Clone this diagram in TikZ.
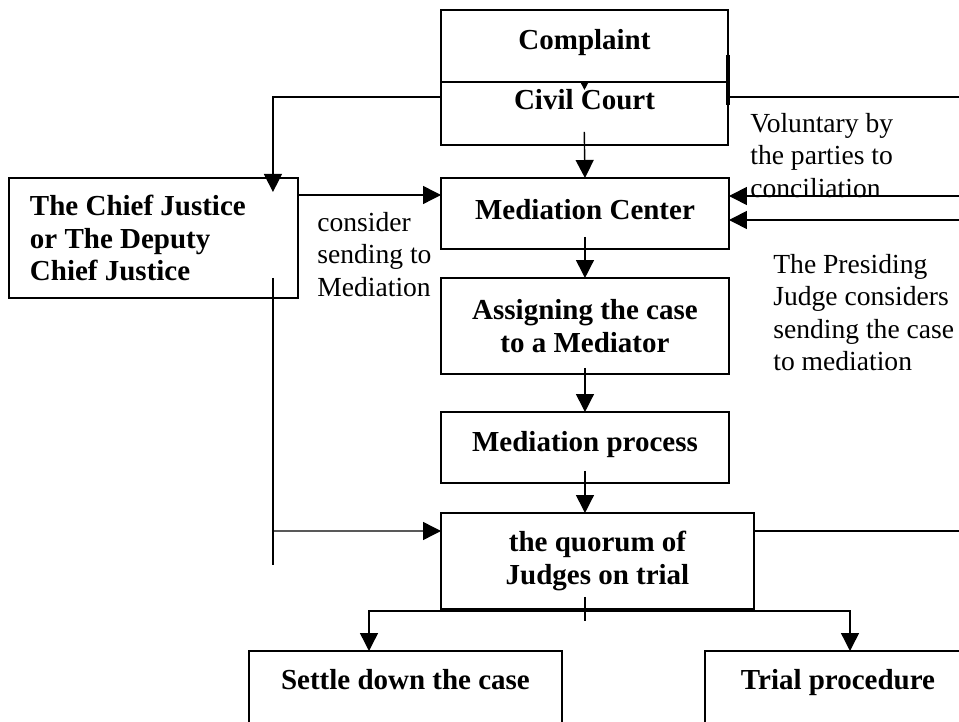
\documentclass[tikz,border=0pt]{standalone}
\usepackage{fontspec}
\setmainfont{Liberation Serif}
\usetikzlibrary{arrows.meta, calc}
\newcommand{\boxfont}{\fontsize{16.5}{18.7}\selectfont\bfseries}
\newcommand{\notefont}{\fontsize{15.7}{18.4}\selectfont}
\tikzset{%
  x=0.02cm, y=-0.02cm, % one unit is one pixel of the page, y runs downwards
  box/.style={draw, line width=0.9pt, inner sep=0pt, outer sep=0pt, align=center,
    anchor=north west, font=\boxfont},
  note/.style={inner sep=0pt, align=flush left, anchor=north west, font=\notefont},
  >={Triangle[length=0.36cm, width=0.36cm]},
  link/.style={->, line width=0.8pt},
  wire/.style={line width=0.8pt}
}

\begin{document}
\begin{tikzpicture}
  \useasboundingbox (0,0) rectangle (959,722);

  \node[box, minimum width=5.74cm, text height=0.8cm, text depth=0.64cm] (complaint) at (441,10) {Complaint};
  \node[box, minimum width=5.74cm, text height=0.56cm, text depth=0.7cm] (civil) at (441,82) {Civil Court};
  \node[box, minimum width=5.76cm, text height=0.84cm, text depth=0.58cm] (medc) at (441,178) {Mediation Center};
  \node[box, minimum width=5.78cm, minimum height=2.4cm, text width=4.94cm, align=flush left] (chief) at (9,178)
    {The Chief Justice\\ or The Deputy\\ Chief Justice};
  \node[box, minimum width=5.76cm, minimum height=1.92cm] (assign) at (441,278) {Assigning the case\\ to a Mediator};
  \node[box, minimum width=5.76cm, text height=0.79cm, text depth=0.63cm] (medp) at (441,412) {Mediation process};
  \node[box, minimum width=6.26cm, minimum height=1.92cm] (quorum) at (441,513) {the quorum of\\ Judges on trial};
  \node[box, minimum width=6.26cm, text height=0.77cm, text depth=1.6cm] (settle) at (249,651) {Settle down the case};
  \node[box, minimum width=5.32cm, text height=0.77cm, text depth=1.6cm] (trial) at (705,651) {Trial procedure};

  \node[note] (voluntary) at (750,113) {Voluntary by\\ the parties to\\ conciliation};
  \node[note] (consider) at (317,212) {consider\\ sending to\\ Mediation};
  \node[note] (presiding) at (773,254) {The Presiding\\ Judge considers\\ sending the case\\ to mediation};

  % free ends off the right edge
  \coordinate (volout) at (965,97);
  \coordinate (volin) at (965,196);
  \coordinate (judgein) at (965,220);
  \coordinate (judgeout) at (965,531);
  \coordinate (cjline) at ($(chief.south east)+(-25,233)$);
  \coordinate (split) at ($(medp.south |- quorum.south)+(0,2)$);

  \draw[wire, -{Triangle[length=0.16cm, width=0.16cm]}] (complaint.south) -- ++(0,8);
  \draw[link, shorten <=-0.26cm] (civil.south) -- (medc.north);
  \draw[link, shorten >=-0.28cm] ($(civil.north west)+(0,15)$) -| ($(chief.north east)+(-25,0)$);
  \draw[wire] ($(civil.north east)+(0,15)$) -- (volout);
  \draw[line width=1.8pt] ($(complaint.north east)+(0,45)$) -- ($(civil.north east)+(0,23)$);
  \draw[link] (volin) -- (medc.east |- volin);
  \draw[link] (judgein) -- (medc.east |- judgein);
  \draw[link] ($(chief.north east)+(0,17)$) -- ($(medc.north west)+(0,17)$);
  \draw[link, shorten <=-0.24cm] (medc.south) -- (assign.north);
  \draw[link, shorten <=-0.12cm] (assign.south) -- (medp.north);
  \draw[link, shorten <=-0.24cm] (medp.south) -- (medp.south |- quorum.north);
  \draw[wire] ($(chief.south east)+(-25,-20)$) -- ++(0,287);
  \draw[link] (cjline) -- ($(quorum.north west)+(0,18)$);
  \draw[wire] ($(quorum.north east)+(0,18)$) -- (judgeout);
  \draw[wire] ($(medp.south |- quorum.south)+(0,-12)$) -- ++(0,24);
  \draw[link] (split) -| ($(settle.north west)+(120,0)$);
  \draw[link] (split) -| ($(trial.north west)+(145,0)$);
\end{tikzpicture}
\end{document}
